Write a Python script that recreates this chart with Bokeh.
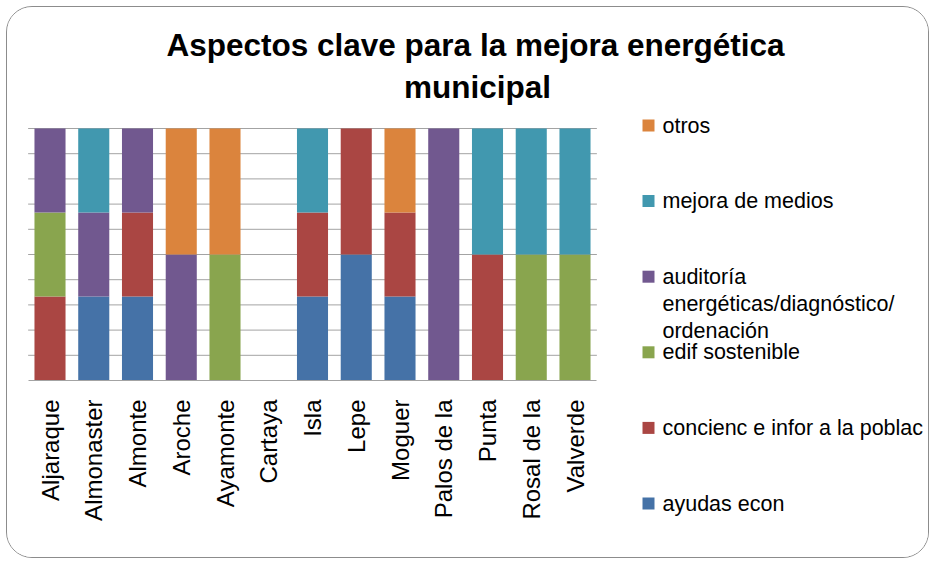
import math
from bokeh.plotting import figure
from bokeh.models import (ColumnDataSource, LinearAxis, FixedTicker, Range1d)
from bokeh.core.properties import value
from bokeh.embed import file_html
from bokeh.resources import INLINE

# ---------------- data ----------------
municipios = ["Aljaraque", "Almonaster", "Almonte", "Aroche", "Ayamonte",
              "Cartaya", "Isla", "Lepe", "Moguer", "Palos de la", "Punta",
              "Rosal de la", "Valverde"]

ayudas_econ = [0, 1, 1, 0, 0, 0, 1, 1, 1, 0, 0, 0, 0]
concienc_infor = [1, 0, 1, 0, 0, 0, 1, 1, 1, 0, 1, 0, 0]
edif_sostenible = [1, 0, 0, 0, 1, 0, 0, 0, 0, 0, 0, 1, 1]
auditoria = [1, 1, 1, 1, 0, 0, 0, 0, 0, 1, 0, 0, 0]
mejora_medios = [0, 1, 0, 0, 0, 0, 1, 0, 0, 0, 1, 1, 1]
otros = [0, 0, 0, 1, 1, 0, 0, 0, 1, 0, 0, 0, 0]

series_keys = ["ayudas", "concienc", "edif", "auditoria", "mejora", "otros"]
series_values = [ayudas_econ, concienc_infor, edif_sostenible, auditoria,
                 mejora_medios, otros]
series_labels = ["ayudas econ", "concienc e infor a la poblac",
                 "edif sostenible",
                 "auditoría\nenergéticas/diagnóstico/\nordenación",
                 "mejora de medios", "otros"]
series_colors = ["#4572A7", "#AA4643", "#89A54E", "#71588F", "#4198AF",
                 "#DB843D"]
grid_ticks = [0.1, 0.2, 0.3, 0.4, 0.5, 0.6, 0.7, 0.8, 0.9, 1.0]
title_lines = ["Aspectos clave para la mejora energética", "municipal"]

# 100 % stacked shares
totals = [sum(vals) for vals in zip(*series_values)]
positions = list(range(len(municipios)))
data = {"pos": positions}
for key, vals in zip(series_keys, series_values):
    data[key] = [v / t if t else 0.0 for v, t in zip(vals, totals)]
source = ColumnDataSource(data)

# ---------------- layout constants (page pixels) ----------------
FONT = "Liberation Sans"
GRID_COLOR = "#a3a3a3"
ORIGIN = 7            # page position of the canvas' top-left corner
CW, CH = 923, 552     # canvas size
CAT0_X = 49.5         # page x of the first category centre
CAT_PITCH = 43.75     # px per category
Y0_PAGE = 380         # page y of 0 %
Y_UNIT = 252          # px for 100 %


def dx(px):
    return (px - CAT0_X) / CAT_PITCH


def dy(py):
    return (Y0_PAGE - py) / Y_UNIT


p = figure(width=CW, height=CH, output_backend="svg", toolbar_location=None,
           x_range=Range1d(dx(ORIGIN), dx(ORIGIN + CW)),
           y_range=Range1d(dy(ORIGIN + CH), dy(ORIGIN)),
           x_axis_location=None, y_axis_location=None,
           min_border=0, outline_line_color=None,
           background_fill_color="white", border_fill_color="white")
p.grid.visible = False
p.styles = {"border": "1px solid #8c8c8c", "border-radius": "26px",
            "overflow": "hidden", "margin": "6px 0 0 6px"}

# horizontal gridlines (behind the bars)
n = len(municipios)
p.segment(x0=[-0.5] * len(grid_ticks), x1=[n - 0.5] * len(grid_ticks),
          y0=grid_ticks, y1=grid_ticks, line_color=GRID_COLOR, line_width=1)

renderers = p.vbar_stack(series_keys, x="pos", width=0.71,
                         color=series_colors, line_color=None, source=source)

# category axis on the 0 line
xaxis = LinearAxis(ticker=FixedTicker(ticks=positions),
                   major_label_overrides={i: m for i, m in enumerate(municipios)},
                   fixed_location=0, bounds=(-0.5, n - 0.5),
                   axis_line_color=GRID_COLOR, axis_line_width=1,
                   major_tick_line_color=None, minor_tick_line_color=None,
                   major_tick_out=0, major_tick_in=0,
                   major_label_orientation=math.pi / 2,
                   major_label_standoff=19,
                   major_label_text_font=FONT,
                   major_label_text_font_size="24px",
                   major_label_text_color="black")
p.add_layout(xaxis, "below")

# title
p.text(x=[dx(475), dx(477)], y=[dy(44.5), dy(86)], text=title_lines,
       text_align="center", text_baseline="alphabetic",
       text_font=value(FONT), text_font_style="bold",
       text_font_size=value("31.5px"), text_color="black")

# legend (top item = last series)
leg_colors = series_colors[::-1]
leg_labels = series_labels[::-1]
leg_cy = [125 + 75.6 * k for k in range(len(leg_labels))]
p.scatter(x=[dx(648)] * len(leg_cy), y=[dy(c) for c in leg_cy],
          marker="square", size=12, color=leg_colors, line_color=None)
lx, ly, lt = [], [], []
for c, lab in zip(leg_cy, leg_labels):
    for j, line in enumerate(lab.split("\n")):
        lx.append(dx(662))
        ly.append(dy(c + 27 * j))
        lt.append(line)
p.text(x=lx, y=ly, text=lt, text_align="left", text_baseline="alphabetic",
       text_font=value(FONT), text_font_size=value("21.5px"),
       text_color="black")

open("out.html", "w").write(file_html(p, INLINE))
